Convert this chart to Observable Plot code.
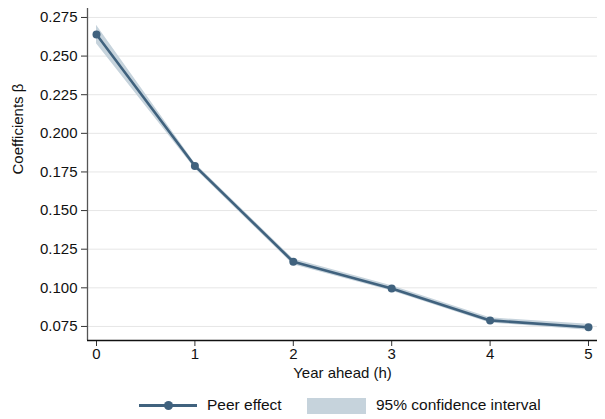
<!DOCTYPE html>
<html>
<head>
<meta charset="utf-8">
<script src="https://cdn.jsdelivr.net/npm/d3@7"></script>
<script src="https://cdn.jsdelivr.net/npm/@observablehq/plot@0.6"></script>
<style>
  html, body { margin: 0; padding: 0; background: #fff; }
  body { width: 605px; height: 419px; position: relative; font-family: "Liberation Sans", Arial, sans-serif; }
  #chart { position: absolute; left: 0; top: 0; }
  #legend { position: absolute; left: 0; top: 396px; width: 605px; height: 20px; font-size: 15.5px; color: #111; }
  .sw-line { position: absolute; left: 139px; top: 8px; width: 58px; height: 3px; background: #40627e; }
  .sw-dot { position: absolute; left: 164px; top: 5px; width: 9px; height: 9px; border-radius: 50%; background: #40627e; }
  .sw-rect { position: absolute; left: 307px; top: 2px; width: 59px; height: 16px; background: #c6d3dc; }
  .lab { position: absolute; top: 0px; white-space: nowrap; }
</style>
</head>
<body>
<div id="chart"></div>
<div id="legend">
  <div class="sw-line"></div><div class="sw-dot"></div>
  <div class="lab" style="left:207px">Peer effect</div>
  <div class="sw-rect"></div>
  <div class="lab" style="left:376px">95% confidence interval</div>
</div>
<script>
const years = [0, 1, 2, 3, 4, 5];
const coef = [0.264, 0.1789, 0.1168, 0.0996, 0.0789, 0.0745];
const ciLow = [0.258, 0.1772, 0.1150, 0.0979, 0.0772, 0.0726];
const ciHigh = [0.270, 0.1806, 0.1186, 0.1013, 0.0806, 0.0764];
const yTicks = [0.075, 0.100, 0.125, 0.150, 0.175, 0.200, 0.225, 0.250, 0.275];

const data = years.map((h, i) => ({h, b: coef[i], lo: ciLow[i], hi: ciHigh[i]}));
const col = "#40627e";

const chart = Plot.plot({
  width: 605,
  height: 390,
  marginLeft: 87,
  marginRight: 8,
  marginTop: 8,
  marginBottom: 50,
  style: {fontFamily: "Liberation Sans, Arial, sans-serif", fontSize: "15px", color: "#111", background: "#fff"},
  x: {domain: [-0.0915, 5.0915], ticks: years, tickFormat: d3.format("d"), label: null},
  y: {domain: [0.0659, 0.2808], ticks: yTicks, tickFormat: d3.format(".3f"), label: null},
  marks: [
    Plot.gridY(yTicks, {stroke: "#e6e6e6", strokeOpacity: 1, strokeWidth: 1}),
    Plot.areaY(data, {x: "h", y1: "lo", y2: "hi", fill: "#c6d3dc", fillOpacity: 1}),
    Plot.lineY(data, {x: "h", y: "b", stroke: col, strokeWidth: 2.6}),
    Plot.dot(data, {x: "h", y: "b", r: 4, fill: col}),
    Plot.axisY(yTicks, {tickSize: 6, tickPadding: 4, tickFormat: d3.format(".3f"), stroke: "#333", fontSize: 15, label: null}),
    Plot.axisX(years, {tickSize: 6, tickPadding: 2, tickFormat: d3.format("d"), stroke: "#333", fontSize: 15, label: null}),
    Plot.ruleX([-0.0915], {stroke: "#555", strokeWidth: 1.3}),
    Plot.ruleY([0.0659], {stroke: "#111", strokeWidth: 1.5}),
    Plot.text(["Year ahead (h)"], {frameAnchor: "bottom", dy: 37, text: d => d, fontSize: 15, fill: "#111"}),
    Plot.text(["Coefficients β"], {frameAnchor: "left", dx: -69, rotate: -90, text: d => d, fontSize: 15, fill: "#111"})
  ]
});
document.getElementById("chart").appendChild(chart);
</script>
</body>
</html>
